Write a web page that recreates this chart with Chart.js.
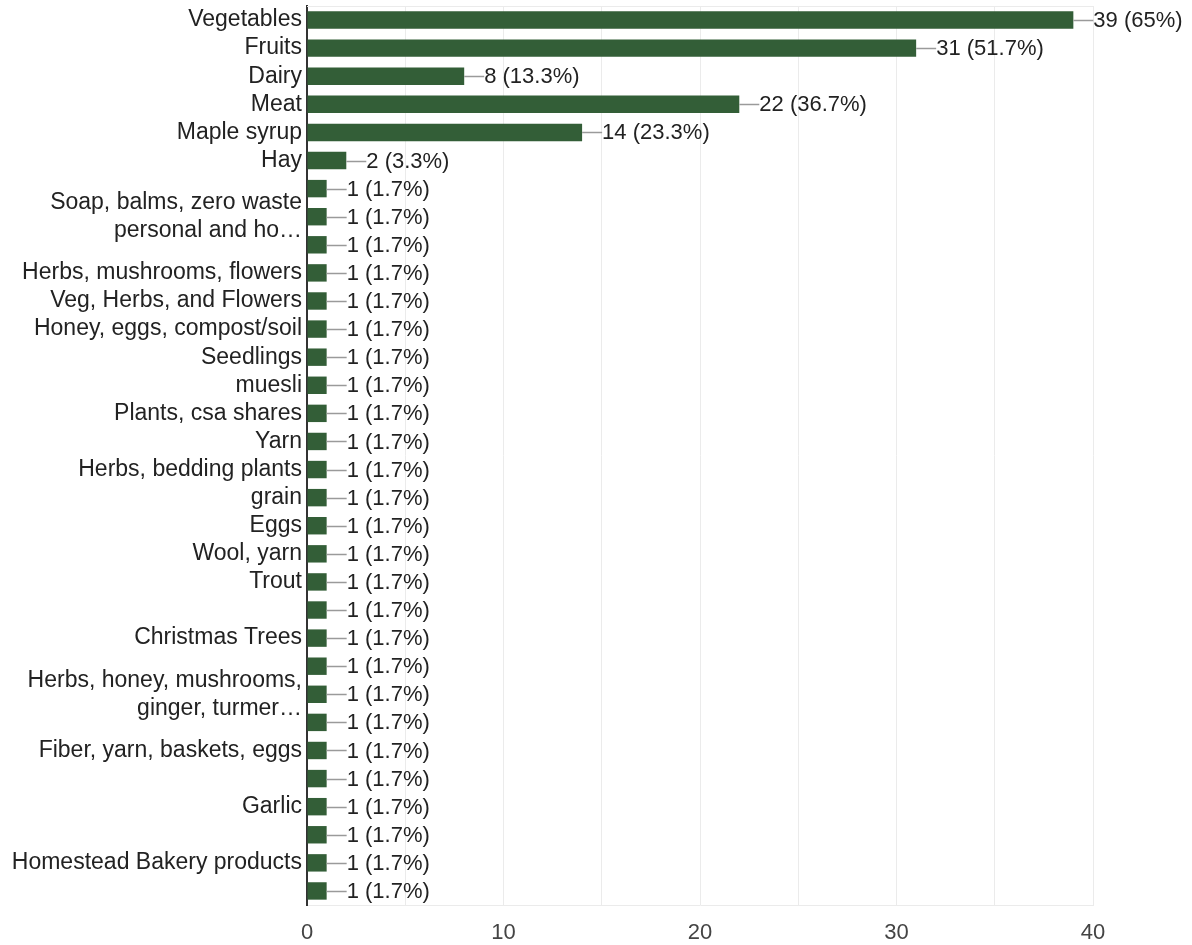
<!DOCTYPE html>
<html>
<head>
<meta charset="utf-8">
<script src="https://cdn.jsdelivr.net/npm/chart.js@4/dist/chart.umd.min.js"></script>
<style>
  body { margin: 0; background: #fff; }
  canvas { display: block; }
</style>
</head>
<body>
<canvas id="barCanvas" width="1192" height="945"></canvas>
<script>
// answers (labels the reference skips are left blank)
var categories = [
	'Vegetables', 'Fruits', 'Dairy', 'Meat', 'Maple syrup', 'Hay',
	'', ['Soap, balms, zero waste', 'personal and ho\u2026'], '',
	'Herbs, mushrooms, flowers', 'Veg, Herbs, and Flowers', 'Honey, eggs, compost/soil',
	'Seedlings', 'muesli', 'Plants, csa shares', 'Yarn', 'Herbs, bedding plants',
	'grain', 'Eggs', 'Wool, yarn', 'Trout', '', 'Christmas Trees', '',
	['Herbs, honey, mushrooms,', 'ginger, turmer\u2026'], '', 'Fiber, yarn, baskets, eggs', '',
	'Garlic', '', 'Homestead Bakery products', ''
];
var counts = [39, 31, 8, 22, 14, 2,
	1, 1, 1, 1, 1, 1, 1, 1, 1, 1, 1, 1, 1, 1, 1, 1, 1, 1, 1, 1, 1, 1, 1, 1, 1, 1];
var respondents = 60;
var xTicks = [0, 10, 20, 30, 40];

var font = 'Liberation Sans, Arial, sans-serif';

function pct(v) {
	var p = Math.round(v / respondents * 1000) / 10;
	return v + ' (' + p + '%)';
}

// little leader line + "n (p%)" after each bar
var valueLabels = {
	id: 'valueLabels',
	afterDatasetsDraw: function(chart) {
		var c = chart.ctx;
		var area = chart.chartArea;
		c.save();
		c.strokeStyle = '#ebebeb';
		c.lineWidth = 1;
		c.beginPath();
		c.moveTo(area.left, area.top + 0.5);
		c.lineTo(area.right, area.top + 0.5);
		c.stroke();

		var meta = chart.getDatasetMeta(0);
		c.font = '22px ' + font;
		c.textBaseline = 'middle';
		c.textAlign = 'left';
		meta.data.forEach(function(bar, i) {
			c.strokeStyle = '#9a9a9a';
			c.lineWidth = 1.5;
			c.beginPath();
			c.moveTo(bar.x, Math.round(bar.y) + 0.5);
			c.lineTo(bar.x + 20, Math.round(bar.y) + 0.5);
			c.stroke();
			c.fillStyle = '#222';
			c.fillText(pct(counts[i]), bar.x + 20, bar.y + 1);
		});
		c.restore();
	}
};

var ctx = document.getElementById('barCanvas').getContext('2d');
var chart = new Chart(ctx, {
	type: 'bar',
	data: {
		labels: categories,
		datasets: [{
			data: counts,
			backgroundColor: '#335e37',
			barPercentage: 0.62,
			categoryPercentage: 1,
		}],
	},
	options: {
		indexAxis: 'y',
		responsive: false,
		animation: false,
		layout: { padding: { top: 6, right: 99, left: 0, bottom: 0 } },
		plugins: {
			legend: { display: false },
			tooltip: { enabled: false },
		},
		scales: {
			x: {
				min: xTicks[0],
				max: xTicks[xTicks.length - 1],
				afterFit: function(scale) {
					scale.height = 40;
					scale.paddingLeft = 0;
					scale.paddingRight = 0;
				},
				ticks: {
					stepSize: 5,
					padding: 15,
					color: '#444',
					font: { family: font, size: 22 },
					maxRotation: 0,
					callback: function(v) { return xTicks.indexOf(v) >= 0 ? v : ''; },
				},
				grid: {
					drawTicks: false,
					color: function(c) { return c.tick && c.tick.value === 0 ? 'rgba(0,0,0,0)' : '#ebebeb'; },
				},
				border: { color: '#ebebeb' },
			},
			y: {
				afterFit: function(scale) {
					scale.width = 307;
					scale.paddingTop = 0;
					scale.paddingBottom = 0;
				},
				ticks: {
					autoSkip: false,
					padding: 5,
					color: '#222',
					font: { family: font, size: 23, lineHeight: 1.22 },
				},
				grid: { display: false, drawTicks: false },
				border: { color: '#333', width: 2 },
			},
		},
	},
	plugins: [valueLabels],
});
</script>
</body>
</html>
